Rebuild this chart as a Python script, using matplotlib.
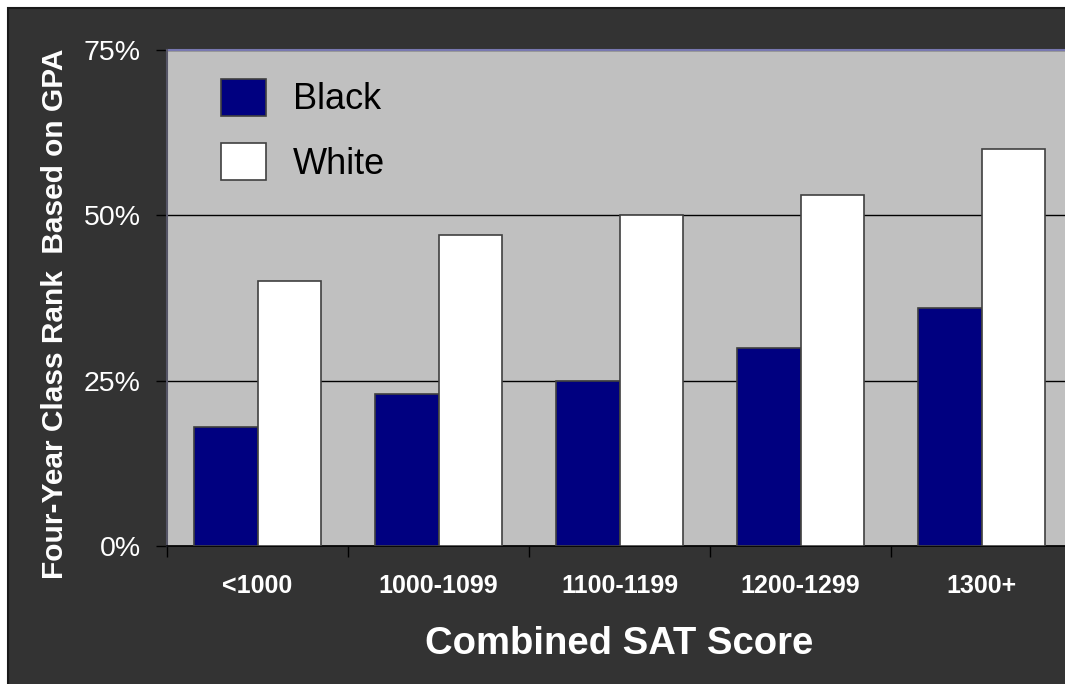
import matplotlib
matplotlib.use("Agg")
import matplotlib.pyplot as plt
from matplotlib.patches import Rectangle
import numpy as np

categories = ["<1000", "1000-1099", "1100-1199", "1200-1299", "1300+"]
black_vals = [18, 23, 25, 30, 36]
white_vals = [40, 47, 50, 53, 60]
yticks = [0, 25, 50, 75]
ytick_labels = ["0%", "25%", "50%", "75%"]

plt.rcParams['font.family'] = ['Liberation Sans', 'DejaVu Sans']

W, H = 1065, 684
fig = plt.figure(figsize=(W / 100, H / 100), dpi=100)
fig.patch.set_facecolor('white')
# dark frame
fig.patches.append(Rectangle((7.5 / W, -0.05), 1.1, 1.05 - 7.5 / H, transform=fig.transFigure,
                             facecolor='#333333', edgecolor='#1a1a1a', linewidth=1.5, zorder=-5))

left, right = 167, 1072
bottom, top = 546, 50
ax = fig.add_axes([left / W, 1 - bottom / H, (right - left) / W, (bottom - top) / H])
ax.set_zorder(1)
ax.set_facecolor('#C0C0C0')

x = np.arange(len(categories))
bw = 0.35
ax.bar(x - bw / 2, black_vals, bw, color='#000080', edgecolor='#404040', linewidth=1.2,
       label='Black', zorder=3)
ax.bar(x + bw / 2, white_vals, bw, color='white', edgecolor='#404040', linewidth=1.2,
       label='White', zorder=3)

ax.set_xlim(-0.5, len(categories) - 0.5)
ax.set_ylim(0, 75)
ax.set_yticks(yticks)
ax.set_yticklabels(ytick_labels, color='white', fontsize=20.5)
ax.yaxis.grid(True, color='black', linewidth=1.0, zorder=1)
ax.set_axisbelow(True)

ax.set_xticks(x)
ax.set_xticklabels(categories, color='white', fontsize=18, fontweight='bold')
ax.set_xticks(np.arange(len(categories) + 1) - 0.5, minor=True)
ax.tick_params(axis='x', which='major', length=0, pad=20)
ax.tick_params(axis='x', which='minor', length=8, color='black', width=1)
ax.tick_params(axis='y', length=8, color='black', width=1, pad=11)

for s in ['top', 'right']:
    ax.spines[s].set_visible(False)
ax.spines['left'].set_color('#555566')
ax.spines['left'].set_linewidth(1.5)
ax.spines['bottom'].set_color('black')
ax.spines['bottom'].set_linewidth(1.2)
ax.axhline(75, color='#7878B0', linewidth=1.5, zorder=2, clip_on=False)

ax.set_xlabel('Combined SAT Score', color='white', fontsize=27.5, fontweight='bold', labelpad=20)
ax.set_ylabel('Four-Year Class Rank  Based on GPA', color='white', fontsize=21.5,
              fontweight='bold')
ax.yaxis.set_label_coords(-0.108, 0.468)

leg = ax.legend(loc='upper left', bbox_to_anchor=(0.0597, 0.942), frameon=False,
                fontsize=26, handlelength=1.25, handleheight=1.2, handletextpad=0.75,
                labelspacing=0.72, borderpad=0, borderaxespad=0)
for t in leg.get_texts():
    t.set_color('black')

fig.savefig('out.png', dpi=100, facecolor=fig.get_facecolor())
